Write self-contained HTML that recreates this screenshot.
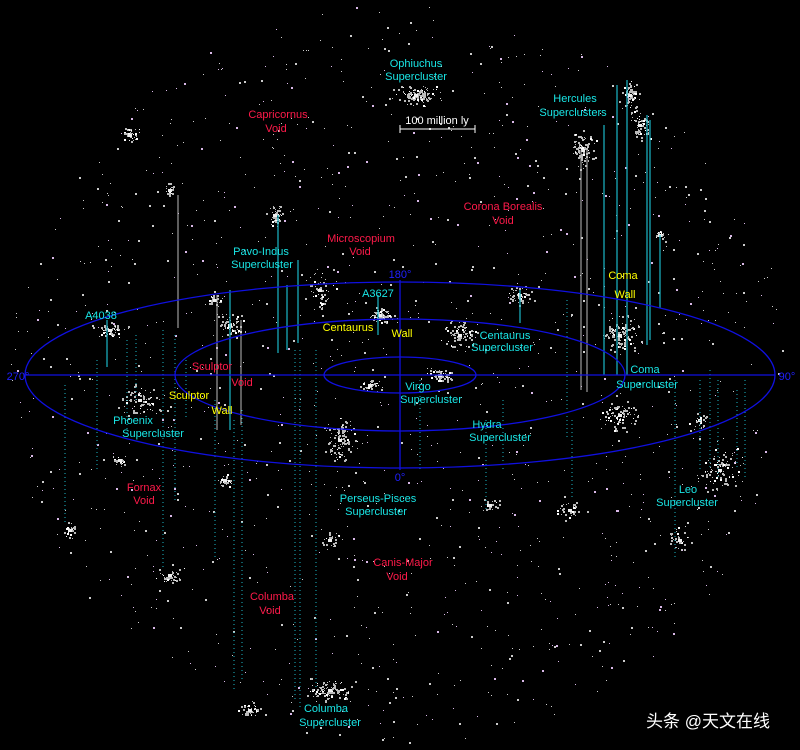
<!DOCTYPE html>
<html><head><meta charset="utf-8"><style>
html,body{margin:0;padding:0;background:#000;width:800px;height:750px;overflow:hidden}
svg{display:block}
text{font-family:"Liberation Sans",sans-serif;font-size:11px;text-anchor:middle}
.c{fill:#19e6e6}.r{fill:#ff1a4a}.y{fill:#ffff00}.b{fill:#2020ff}
</style></head><body>
<svg id="s" width="800" height="750" viewBox="0 0 800 750" xmlns="http://www.w3.org/2000/svg">
<rect width="800" height="750" fill="#000"/>
<g id="dots" fill="#ddd"></g>
<g id="vl"></g>
<g fill="none" stroke="#1010e0" stroke-width="1.3">
<ellipse cx="400" cy="375" rx="375" ry="93"/>
<ellipse cx="400" cy="375" rx="225" ry="56"/>
<ellipse cx="400" cy="375" rx="76" ry="18"/>
<line x1="25" y1="375" x2="775" y2="375"/>
<line x1="400" y1="280" x2="400" y2="470"/>
</g>
<line x1="400" y1="129" x2="475" y2="129" stroke="#fff" stroke-opacity="1"/>
<line x1="400" y1="125" x2="400" y2="133" stroke="#fff"/>
<line x1="475" y1="125" x2="475" y2="133" stroke="#fff"/>
<text x="437" y="124" fill="#fff">100 million ly</text>
<text class="b" x="400" y="278">180°</text>
<text class="b" x="400" y="481">0°</text>
<text class="b" x="18" y="380">270°</text>
<text class="b" x="787" y="380">90°</text>
<text class="c" x="416" y="67">Ophiuchus</text><text class="c" x="416" y="80">Supercluster</text>
<text class="c" x="575" y="102">Hercules</text><text class="c" x="573" y="116">Superclusters</text>
<text class="r" x="278" y="118">Capricornus</text><text class="r" x="276" y="132">Void</text>
<text class="r" x="503" y="210">Corona Borealis</text><text class="r" x="503" y="224">Void</text>
<text class="r" x="361" y="242">Microscopium</text><text class="r" x="360" y="255">Void</text>
<text class="c" x="261" y="255">Pavo-Indus</text><text class="c" x="262" y="268">Supercluster</text>
<text class="y" x="623" y="279">Coma</text><text class="y" x="625" y="298">Wall</text>
<text class="c" x="378" y="297">A3627</text>
<text class="c" x="101" y="319">A4038</text>
<text class="y" x="348" y="331">Centaurus</text><text class="y" x="402" y="337">Wall</text>
<text class="c" x="505" y="339">Centaurus</text><text class="c" x="502" y="351">Supercluster</text>
<text class="r" x="212" y="370">Sculptor</text><text class="r" x="242" y="386">Void</text>
<text class="c" x="645" y="373">Coma</text><text class="c" x="647" y="388">Supercluster</text>
<text class="c" x="418" y="390">Virgo</text><text class="c" x="431" y="403">Supercluster</text>
<text class="y" x="189" y="399">Sculptor</text><text class="y" x="222" y="414">Wall</text>
<text class="c" x="133" y="424">Phoenix</text><text class="c" x="153" y="437">Supercluster</text>
<text class="c" x="487" y="428">Hydra</text><text class="c" x="500" y="441">Supercluster</text>
<text class="r" x="144" y="491">Fornax</text><text class="r" x="144" y="504">Void</text>
<text class="c" x="688" y="493">Leo</text><text class="c" x="687" y="506">Supercluster</text>
<text class="c" x="378" y="502">Perseus-Pisces</text><text class="c" x="376" y="515">Supercluster</text>
<text class="r" x="403" y="566">Canis-Major</text><text class="r" x="397" y="580">Void</text>
<text class="r" x="272" y="600">Columba</text><text class="r" x="270" y="614">Void</text>
<text class="c" x="326" y="712">Columba</text><text class="c" x="330" y="726">Supercluster</text>
<text x="708" y="727" fill="#fff" style="font-family:'Liberation Sans','Noto Sans CJK SC',sans-serif;font-size:17px">头条 @天文在线</text>
</svg>
<script>
var s=12345;function R(){s=(s*1103515245+12345)%2147483648;return s/2147483648;}
var d='';
function dot(x,y,c,w){w=w||1;d+='<rect x="'+x.toFixed(0)+'" y="'+y.toFixed(0)+'" width="'+w+'" height="'+w+'" fill="'+(c||'#ccc')+'"/>';}
for(var i=0;i<1300;i++){var a=R()*6.283,r=Math.sqrt(R());var x=400+Math.cos(a)*r*390,y=375+Math.sin(a)*r*370;dot(x,y,R()<.3?'#d9b8e8':'#ccc',R()<.3?2:1);}
var cl=[[416,95,30,12,120],[583,150,15,25,90],[630,95,12,25,70],[640,125,12,20,60],[275,215,10,15,50],[130,135,12,10,40],[170,190,8,10,20],[320,290,20,30,60],[380,315,15,12,80],[460,335,25,20,90],[520,295,20,15,50],[620,335,25,25,110],[440,375,15,10,60],[370,385,15,10,40],[340,440,20,30,120],[230,325,20,15,60],[215,300,10,8,30],[110,330,20,10,60],[140,400,30,25,80],[620,415,25,25,80],[720,470,30,30,100],[680,540,15,15,30],[570,510,20,15,30],[490,505,12,10,25],[330,540,15,15,30],[170,575,20,10,40],[70,530,8,10,25],[225,480,10,10,30],[330,690,30,15,100],[250,710,15,10,40],[120,460,10,10,20],[660,235,8,8,20],[700,420,15,15,25]];
cl.forEach(function(c){for(var k=0;k<c[4];k++){var u=(R()+R()+R()-1.5)/1.5,v=(R()+R()+R()-1.5)/1.5;dot(c[0]+u*c[2],c[1]+v*c[3],R()<.2?'#fff':'#bbb',R()<.5?2:1);}
d+='<rect x="'+(c[0]-2)+'" y="'+(c[1]-1)+'" width="4" height="3" fill="#eee"/>';});
document.getElementById('dots').innerHTML=d;
var v='';
[[107,320,367],[278,215,353],[287,285,350],[298,260,343],[378,295,335],[520,290,323],[604,125,375],[617,85,375],[627,80,375],[647,115,345],[650,120,340],[660,235,308],[230,290,430]].forEach(function(l){v+='<line x1="'+l[0]+'" y1="'+l[1]+'" x2="'+l[0]+'" y2="'+l[2]+'" stroke="#1bb8c8" stroke-width="1.2"/>';});
[[178,195,328],[217,295,430],[581,150,390],[587,150,392],[241,320,425]].forEach(function(l){v+='<line x1="'+l[0]+'" y1="'+l[1]+'" x2="'+l[0]+'" y2="'+l[2]+'" stroke="#bbb" stroke-width="1"/>';});
[[65,385,525],[97,360,470],[127,340,440],[136,335,400],[163,330,570],[175,335,500],[186,360,420],[215,400,560],[234,420,690],[242,410,680],[295,350,700],[300,350,710],[316,350,690],[420,380,470],[486,420,510],[503,400,470],[567,300,440],[572,420,500],[675,380,560],[700,380,470],[710,370,470],[718,380,480],[737,390,470],[745,380,480]].forEach(function(l){v+='<line x1="'+l[0]+'" y1="'+l[1]+'" x2="'+l[0]+'" y2="'+l[2]+'" stroke="#1bb8c8" stroke-width="1" stroke-dasharray="1,3"/>';});
document.getElementById('vl').innerHTML=v;
</script>
</body></html>
